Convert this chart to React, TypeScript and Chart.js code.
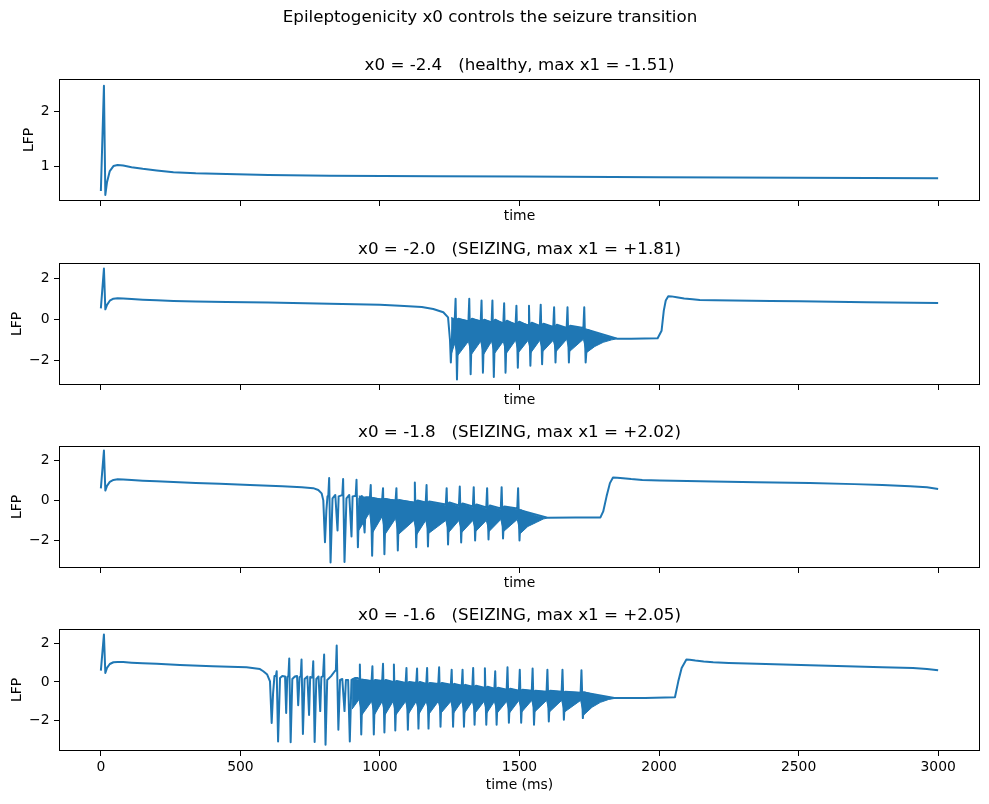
import { useEffect, useRef } from "react";
import { Chart, registerables } from "chart.js";

Chart.register(...registerables);

const FONT_FAMILY = "'DejaVu Sans', 'Liberation Sans', sans-serif";
const LINE_BLUE = "#1f77b4";
const INK = "#000000";

// ---------------- text ----------------
const figureTitle = "Epileptogenicity x0 controls the seizure transition";
const panelTitles = [
  "x0 = -2.4   (healthy, max x1 = -1.51)",
  "x0 = -2.0   (SEIZING, max x1 = +1.81)",
  "x0 = -1.8   (SEIZING, max x1 = +2.02)",
  "x0 = -1.6   (SEIZING, max x1 = +2.05)",
];
const xLabelShared = "time";
const xLabelBottom = "time (ms)";
const yLabel = "LFP";

// ---------------- ticks ----------------
const xTickValues = [0, 500, 1000, 1500, 2000, 2500, 3000];
const yTicksHealthy = [1, 2];
const yTicksSeizing = [-2, 0, 2];

// ---------------- x0 = -2.4 (healthy) ----------------
const tHealthy = [0, 11, 16, 22, 32, 45, 60, 80, 110, 150, 200, 260, 340, 450, 600, 820, 1200, 1500, 2000, 2500, 3000];
const lfpHealthy = [0.56, 2.46, 0.49, 0.72, 0.92, 1.01, 1.03, 1.02, 0.99, 0.96, 0.93, 0.9, 0.88, 0.865, 0.85, 0.835, 0.825, 0.82, 0.81, 0.8, 0.79];

// ---------------- x0 = -2.0 ----------------
const tX20 = [
  0, 11, 16, 22, 32, 45, 60, 80, 110, 150, 200, 260, 340, 450, 600, 820, 1000, 1071, 1150, 1191, 1227, 1244, 1251, 1254, 1258, 1262,
  1268, 1271, 1276, 1281,
  1317, 1320, 1325, 1330,
  1361, 1364, 1369, 1374,
  1400, 1403, 1408, 1413,
  1442, 1445, 1450, 1455,
  1486, 1489, 1494, 1499,
  1531, 1534, 1539, 1544,
  1573, 1576, 1581, 1586,
  1621, 1624, 1629, 1634,
  1669, 1672, 1677, 1682,
  1729, 1732, 1737, 1745,
  1850, 1900, 1995, 2009, 2017, 2024, 2033, 2045, 2063, 2090, 2120, 2146, 2200, 2266, 2400, 2504, 2743, 3000,
];
const lfpX20 = [
  0.55, 2.48, 0.5, 0.72, 0.92, 1.02, 1.04, 1.03, 1.0, 0.97, 0.94, 0.91, 0.88, 0.86, 0.83, 0.77, 0.72, 0.68, 0.62, 0.52, 0.36, 0.11, -1.0, -2.08, -0.9, 0.0,
  0.0, 1.01, -2.9, 0.05,
  -0.1, 1.01, -2.65, 0.05,
  -0.1, 0.93, -2.57, 0.0,
  -0.15, 0.93, -2.78, 0.0,
  -0.2, 0.8, -2.57, -0.05,
  -0.25, 0.68, -2.33, -0.1,
  -0.3, 0.68, -2.24, -0.15,
  -0.3, 0.73, -2.16, -0.2,
  -0.35, 0.6, -2.08, -0.25,
  -0.4, 0.6, -2.08, -0.3,
  -0.4, 0.6, -2.08, -0.5,
  -0.92, -0.92, -0.9, -0.54, 0.44, 0.93, 1.14, 1.13, 1.09, 1.03, 0.99, 0.96, 0.945, 0.93, 0.91, 0.89, 0.85, 0.81,
];
// fast-oscillation envelope between spike-wave discharges
const bandTX20 = [1255, 1268, 1278, 1317, 1327, 1361, 1371, 1400, 1410, 1442, 1452, 1486, 1496, 1531, 1541, 1573, 1583, 1621, 1631, 1669, 1679, 1729, 1740, 1770, 1800, 1830, 1850];
const bandHiX20 = [0.1, 0.05, 0.05, -0.05, 0.05, -0.05, 0.0, -0.1, 0.0, -0.15, -0.05, -0.2, -0.1, -0.25, -0.15, -0.3, -0.2, -0.35, -0.25, -0.4, -0.3, -0.45, -0.45, -0.62, -0.77, -0.87, -0.91];
const bandLoX20 = [-1.7, -1.15, -1.75, -1.05, -1.7, -1.05, -1.7, -1.05, -1.65, -1.05, -1.65, -1.0, -1.6, -1.0, -1.6, -1.0, -1.55, -1.0, -1.55, -0.95, -1.55, -0.95, -1.6, -1.3, -1.1, -0.98, -0.93];

// ---------------- x0 = -1.8 ----------------
const tX18 = [
  0, 11, 16, 22, 32, 45, 60, 80, 110, 150, 200, 260, 340, 426, 534, 650, 720, 761, 779, 791, 797, 803, 808, 812,
  815, 818, 823, 830,
  840, 848, 852, 862,
  865, 868, 873, 880,
  890, 898, 902, 910,
  913, 916, 921, 926,
  935, 945, 950, 960,
  964, 967, 972, 977,
  1008, 1011, 1016, 1021,
  1056, 1059, 1064, 1069,
  1122, 1125, 1130, 1135,
  1164, 1167, 1172, 1177,
  1236, 1239, 1244, 1249,
  1283, 1286, 1291, 1296,
  1333, 1336, 1341, 1346,
  1381, 1384, 1389, 1394,
  1433, 1436, 1441, 1446,
  1492, 1495, 1500, 1505,
  1600, 1700, 1790, 1800, 1812, 1824, 1835, 1850, 1871, 1900, 1940, 2003, 2100, 2194, 2350, 2540, 2700, 2800, 2900, 2960, 3000,
];
const lfpX18 = [
  0.6, 2.48, 0.49, 0.72, 0.92, 1.02, 1.05, 1.04, 1.01, 0.98, 0.95, 0.92, 0.87, 0.83, 0.77, 0.7, 0.65, 0.61, 0.52, 0.35, 0.0, -2.09, -0.5, 0.2,
  0.25, 1.11, -3.1, 0.1,
  0.27, -1.5, 0.2, 0.25,
  0.25, 1.06, -3.07, 0.1,
  0.27, -1.8, 0.2, 0.22,
  0.22, 1.03, -2.34, 0.1,
  0.22, -1.6, 0.15, 0.15,
  0.12, 0.77, -2.76, 0.1,
  0.05, 0.61, -2.68, 0.05,
  0.0, 0.61, -2.5, 0.0,
  -0.1, 0.89, -2.34, 0.0,
  -0.1, 0.77, -2.3, -0.05,
  -0.2, 0.61, -2.2, -0.1,
  -0.25, 0.69, -2.1, -0.15,
  -0.3, 0.66, -2.0, -0.2,
  -0.35, 0.61, -1.95, -0.25,
  -0.4, 0.66, -1.9, -0.3,
  -0.4, 0.61, -2.0, -0.5,
  -0.86, -0.85, -0.85, -0.55, 0.2, 0.86, 1.14, 1.13, 1.1, 1.06, 1.02, 0.99, 0.96, 0.94, 0.9, 0.86, 0.81, 0.77, 0.71, 0.65, 0.57,
];
const bandTX18 = [924, 963, 972, 1008, 1018, 1056, 1066, 1122, 1132, 1164, 1174, 1236, 1246, 1283, 1293, 1333, 1343, 1381, 1391, 1433, 1443, 1492, 1503, 1530, 1560, 1585, 1600];
const bandHiX18 = [0.22, 0.12, 0.15, 0.05, 0.1, 0.0, 0.05, -0.1, 0.0, -0.1, -0.05, -0.25, -0.1, -0.3, -0.15, -0.35, -0.2, -0.4, -0.25, -0.45, -0.3, -0.45, -0.45, -0.62, -0.76, -0.84, -0.86];
const bandLoX18 = [-1.5, -0.6, -1.65, -0.8, -1.7, -0.9, -1.7, -1.0, -1.7, -1.0, -1.65, -1.0, -1.6, -1.0, -1.6, -1.0, -1.55, -1.0, -1.55, -0.95, -1.55, -0.95, -1.65, -1.3, -1.1, -0.93, -0.88];

// ---------------- x0 = -1.6 ----------------
const tX16 = [
  0, 11, 16, 22, 32, 45, 60, 80, 110, 150, 200, 283, 400, 522, 570, 582, 596, 606, 612, 617, 622,
  627, 630, 635, 642,
  650, 660, 664, 668,
  672, 675, 680, 686,
  695, 703, 707, 712,
  716, 719, 724, 730,
  740, 746, 750, 756,
  758, 761, 766, 772,
  780, 786, 790, 796,
  797, 800, 805, 811,
  825, 838,
  842, 845, 851, 857,
  865, 873, 878, 886, 892, 898, 910, 920,
  925, 928, 933, 938,
  970, 973, 978, 983,
  1008, 1011, 1016, 1021,
  1047, 1050, 1055, 1060,
  1092, 1095, 1100, 1105,
  1130, 1133, 1138, 1143,
  1166, 1169, 1174, 1179,
  1209, 1212, 1217, 1222,
  1254, 1257, 1262, 1267,
  1293, 1296, 1301, 1306,
  1331, 1334, 1339, 1344,
  1373, 1376, 1381, 1386,
  1410, 1413, 1418, 1423,
  1454, 1457, 1462, 1467,
  1498, 1501, 1506, 1511,
  1544, 1547, 1552, 1557,
  1597, 1600, 1605, 1610,
  1651, 1654, 1659, 1664,
  1719, 1722, 1727, 1735,
  1840, 1950, 2057, 2069, 2081, 2098, 2110, 2130, 2160, 2194, 2250, 2350, 2540, 2672, 2800, 2910, 2960, 3000,
];
const lfpX16 = [
  0.58, 2.44, 0.46, 0.72, 0.92, 1.01, 1.03, 1.02, 0.99, 0.96, 0.93, 0.87, 0.8, 0.75, 0.66, 0.55, 0.38, 0.03, -2.11, -0.6, 0.3,
  0.3, 0.55, -3.06, 0.2,
  0.3, 0.28, -1.6, 0.25,
  0.3, 1.2, -3.1, 0.15,
  0.28, 0.3, -1.2, 0.25,
  0.28, 1.15, -2.68, 0.15,
  0.28, -1.7, 0.25, 0.22,
  0.25, 1.06, -3.09, 0.15,
  0.28, -1.5, 0.25, 0.3,
  0.3, 1.41, -3.23, 0.1,
  0.3, 0.55,
  0.6, 1.87, -2.46, 0.1,
  0.15, -1.5, 0.1, 0.1, -3.06, 0.1, 0.2, 0.2,
  0.15, 0.89, -2.7, 0.1,
  0.05, 0.8, -2.7, 0.1,
  0.05, 0.93, -2.6, 0.1,
  0.0, 0.89, -2.5, 0.05,
  -0.05, 0.72, -2.46, 0.0,
  -0.05, 0.69, -2.4, 0.0,
  -0.1, 0.72, -2.4, -0.05,
  -0.1, 0.75, -2.3, -0.05,
  -0.15, 0.63, -2.3, -0.1,
  -0.2, 0.63, -2.3, -0.15,
  -0.25, 0.72, -2.2, -0.2,
  -0.3, 0.7, -2.2, -0.25,
  -0.35, 0.55, -2.2, -0.3,
  -0.4, 0.75, -2.1, -0.35,
  -0.45, 0.63, -2.1, -0.4,
  -0.45, 0.69, -2.2, -0.45,
  -0.5, 0.63, -2.03, -0.45,
  -0.5, 0.63, -1.94, -0.5,
  -0.55, 0.6, -1.86, -0.55,
  -0.83, -0.83, -0.79, 0.03, 0.72, 1.15, 1.14, 1.1, 1.05, 1.01, 0.97, 0.93, 0.86, 0.8, 0.76, 0.72, 0.67, 0.6,
];
const bandTX16 = [900, 925, 935, 970, 980, 1008, 1018, 1047, 1057, 1092, 1102, 1130, 1140, 1166, 1176, 1209, 1219, 1254, 1264, 1293, 1303, 1331, 1341, 1373, 1383, 1410, 1420, 1454, 1464, 1498, 1508, 1544, 1554, 1597, 1607, 1651, 1661, 1719, 1730, 1760, 1790, 1820, 1840];
const bandHiX16 = [0.15, 0.1, 0.15, 0.05, 0.1, 0.05, 0.1, 0.0, 0.05, -0.05, 0.0, -0.05, 0.0, -0.1, -0.05, -0.1, -0.05, -0.15, -0.1, -0.2, -0.15, -0.25, -0.2, -0.3, -0.25, -0.35, -0.3, -0.4, -0.35, -0.45, -0.4, -0.45, -0.45, -0.5, -0.45, -0.5, -0.5, -0.55, -0.5, -0.62, -0.72, -0.8, -0.82];
const bandLoX16 = [-1.4, -0.9, -1.7, -1.0, -1.7, -1.0, -1.7, -1.0, -1.7, -1.0, -1.65, -1.0, -1.65, -1.0, -1.65, -1.0, -1.6, -1.0, -1.6, -1.0, -1.6, -1.0, -1.6, -1.0, -1.6, -1.0, -1.6, -1.0, -1.6, -0.95, -1.55, -0.95, -1.55, -0.95, -1.55, -0.95, -1.55, -0.95, -1.7, -1.3, -1.05, -0.9, -0.85];

// ---------------- panels ----------------
type Panel = {
  title: string;
  t: number[];
  v: number[];
  bandT?: number[];
  bandHi?: number[];
  bandLo?: number[];
  yMin: number;
  yMax: number;
  yTicks: number[];
  yLabelPad: number;
};

const panels: Panel[] = [
  { title: panelTitles[0], t: tHealthy, v: lfpHealthy, yMin: 0.38, yMax: 2.58, yTicks: yTicksHealthy, yLabelPad: 20.7 },
  { title: panelTitles[1], t: tX20, v: lfpX20, bandT: bandTX20, bandHi: bandHiX20, bandLo: bandLoX20, yMin: -3.17, yMax: 2.75, yTicks: yTicksSeizing, yLabelPad: 9.4 },
  { title: panelTitles[2], t: tX18, v: lfpX18, bandT: bandTX18, bandHi: bandHiX18, bandLo: bandLoX18, yMin: -3.37, yMax: 2.71, yTicks: yTicksSeizing, yLabelPad: 9.4 },
  { title: panelTitles[3], t: tX16, v: lfpX16, bandT: bandTX16, bandHi: bandHiX16, bandLo: bandLoX16, yMin: -3.55, yMax: 2.72, yTicks: yTicksSeizing, yLabelPad: 9.4 },
];

// ---------------- layout ----------------
const FIG_W = 989;
const FIG_H = 804;
const AXES_LEFT = 59;
const AXES_RIGHT_PAD = 9;
const AXES_TOPS = [79, 263, 446, 629];
const AXES_H = 122;
const PANEL_TITLE_BLOCK = 27;
const FIG_TITLE_BLOCK = 52;
const XAXIS_H_INNER = 24;
const XAXIS_H_LAST = 44;

const fmtTick = (v: number) => (v < 0 ? "\u2212" + Math.abs(v) : String(v));

// full rectangular frame around each plotting area
const axesFrame = {
  id: "axesFrame",
  afterDatasetsDraw(chart: any) {
    const { ctx, chartArea: a } = chart;
    ctx.save();
    ctx.strokeStyle = INK;
    ctx.lineWidth = 1;
    ctx.strokeRect(
      Math.round(a.left) + 0.5,
      Math.round(a.top) + 0.5,
      Math.round(a.right - a.left) - 1,
      Math.round(a.bottom - a.top) - 1
    );
    ctx.restore();
  },
};

function canvasTop(i: number) {
  return i === 0 ? 0 : AXES_TOPS[i] - PANEL_TITLE_BLOCK;
}
function canvasHeight(i: number) {
  const last = i === panels.length - 1;
  return (i === 0 ? FIG_TITLE_BLOCK : 0) + PANEL_TITLE_BLOCK + AXES_H + (last ? XAXIS_H_LAST : XAXIS_H_INNER);
}

function makeChart(canvas: HTMLCanvasElement, p: Panel, i: number) {
  const last = i === panels.length - 1;
  const tickFont = { family: FONT_FAMILY, size: 13.9 };
  const titleFont = { family: FONT_FAMILY, size: 16.7, weight: "normal" as const, lineHeight: "20px" };

  const datasets: any[] = [];
  if (p.bandT && p.bandHi && p.bandLo) {
    const hi = p.bandT.map((x, k) => ({ x, y: p.bandHi![k] }));
    const lo = p.bandT.map((x, k) => ({ x, y: p.bandLo![k] }));
    datasets.push({
      data: hi,
      borderColor: LINE_BLUE,
      borderWidth: 1,
      pointRadius: 0,
      fill: false,
    });
    datasets.push({
      data: lo,
      borderColor: LINE_BLUE,
      backgroundColor: LINE_BLUE,
      borderWidth: 1,
      pointRadius: 0,
      fill: "-1",
    });
  }
  datasets.push({
    data: p.t.map((x, k) => ({ x, y: p.v[k] })),
    borderColor: LINE_BLUE,
    borderWidth: 2,
    borderJoinStyle: "round",
    pointRadius: 0,
    pointHoverRadius: 0,
    fill: false,
    tension: 0,
  });

  const gridOpts = {
    display: true,
    drawOnChartArea: false,
    drawTicks: true,
    tickLength: 5,
    tickWidth: 1,
    tickColor: INK,
    color: INK,
    lineWidth: 1,
  };

  return new Chart(canvas, {
    type: "line",
    data: { datasets },
    plugins: [axesFrame],
    options: {
      animation: false,
      responsive: false,
      maintainAspectRatio: false,
      devicePixelRatio: 1,
      events: [],
      layout: { padding: { left: 0, right: AXES_RIGHT_PAD, top: 0, bottom: 0 } },
      plugins: {
        legend: { display: false },
        tooltip: { enabled: false },
        title: {
          display: i === 0,
          text: figureTitle,
          color: INK,
          font: titleFont,
          padding: { top: 8, bottom: 24 },
        },
        subtitle: {
          display: true,
          text: p.title,
          color: INK,
          font: titleFont,
          fullSize: false,
          padding: { top: 4, bottom: 3 },
        },
      },
      scales: {
        x: {
          type: "linear",
          min: -150,
          max: 3150,
          afterFit: (s: any) => {
            s.height = last ? XAXIS_H_LAST : XAXIS_H_INNER;
          },
          afterBuildTicks: (s: any) => {
            s.ticks = xTickValues.map((value) => ({ value }));
          },
          grid: gridOpts,
          border: { display: false },
          ticks: {
            display: last,
            font: tickFont,
            color: INK,
            padding: 3,
            maxRotation: 0,
            minRotation: 0,
            autoSkip: false,
            callback: (v: any) => fmtTick(Number(v)),
          },
          title: {
            display: true,
            text: last ? xLabelBottom : xLabelShared,
            color: INK,
            font: tickFont,
            padding: { top: 0, bottom: last ? 1 : 0 },
          },
        },
        y: {
          type: "linear",
          min: p.yMin,
          max: p.yMax,
          afterFit: (s: any) => {
            s.width = AXES_LEFT;
          },
          afterBuildTicks: (s: any) => {
            s.ticks = p.yTicks.map((value) => ({ value }));
          },
          grid: gridOpts,
          border: { display: false },
          ticks: {
            font: tickFont,
            color: INK,
            padding: 4.5,
            autoSkip: false,
            callback: (v: any) => fmtTick(Number(v)),
          },
          title: {
            display: true,
            text: yLabel,
            color: INK,
            font: tickFont,
            padding: { top: p.yLabelPad, bottom: 0 },
          },
        },
      },
    } as any,
  });
}

export default function App() {
  const canvasRefs = useRef<(HTMLCanvasElement | null)[]>([]);

  useEffect(() => {
    const charts = panels.map((p, i) => makeChart(canvasRefs.current[i]!, p, i));
    return () => charts.forEach((c) => c.destroy());
  }, []);

  return (
    <div
      style={{
        position: "fixed",
        left: 0,
        top: 0,
        width: FIG_W,
        height: FIG_H,
        background: "#ffffff",
        overflow: "hidden",
      }}
    >
      {panels.map((_, i) => (
        <canvas
          key={i}
          ref={(el) => {
            canvasRefs.current[i] = el;
          }}
          width={FIG_W}
          height={canvasHeight(i)}
          style={{
            position: "absolute",
            left: 0,
            top: canvasTop(i),
            width: FIG_W,
            height: canvasHeight(i),
          }}
        />
      ))}
    </div>
  );
}
